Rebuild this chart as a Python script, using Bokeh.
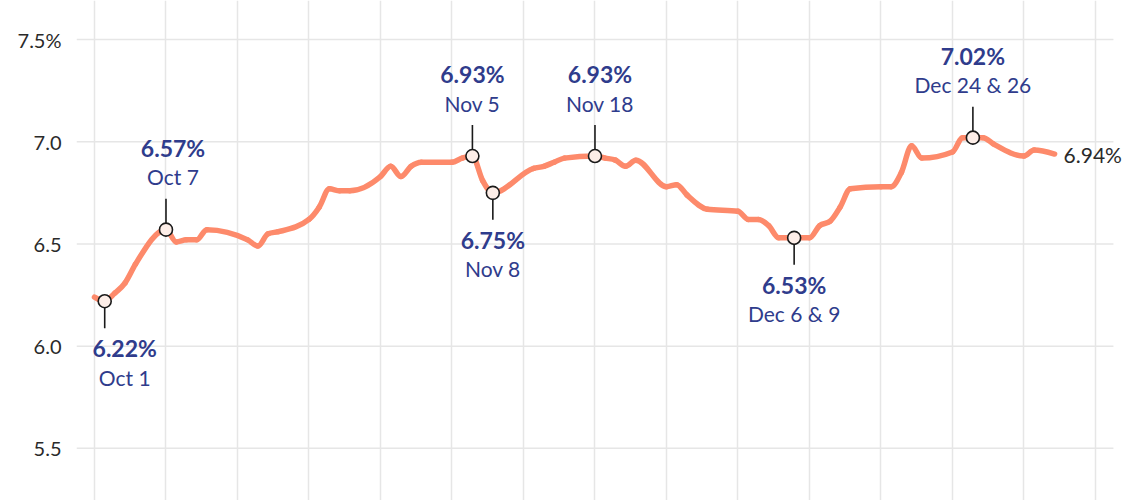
import numpy as np
import pandas as pd
from bokeh.plotting import figure
from bokeh.models import ColumnDataSource, Range1d, FixedTicker, PrintfTickFormatter, Label
from bokeh.core.properties import value
from bokeh.embed import file_html
from bokeh.resources import INLINE

# ---------------- data ----------------
dates = [
    "2024-09-30", "2024-10-01", "2024-10-02", "2024-10-03", "2024-10-04",
    "2024-10-07", "2024-10-08", "2024-10-09", "2024-10-10", "2024-10-11",
    "2024-10-15", "2024-10-16", "2024-10-17", "2024-10-18",
    "2024-10-21", "2024-10-22", "2024-10-23", "2024-10-24", "2024-10-25",
    "2024-10-28", "2024-10-29", "2024-10-30", "2024-10-31", "2024-11-01",
    "2024-11-04", "2024-11-05", "2024-11-06", "2024-11-07", "2024-11-08",
    "2024-11-12", "2024-11-13", "2024-11-14", "2024-11-15",
    "2024-11-18", "2024-11-19", "2024-11-20", "2024-11-21", "2024-11-22",
    "2024-11-25", "2024-11-26", "2024-11-27", "2024-11-29",
    "2024-12-02", "2024-12-03", "2024-12-04", "2024-12-05", "2024-12-06",
    "2024-12-09", "2024-12-10", "2024-12-11", "2024-12-12", "2024-12-13",
    "2024-12-16", "2024-12-17", "2024-12-18", "2024-12-19", "2024-12-20",
    "2024-12-23", "2024-12-24", "2024-12-26", "2024-12-27",
    "2024-12-30", "2024-12-31", "2025-01-02",
]
rates = [
    6.24, 6.22, 6.26, 6.31, 6.40,
    6.57, 6.51, 6.52, 6.52, 6.57,
    6.52, 6.49, 6.55, 6.56,
    6.62, 6.68, 6.77, 6.76, 6.76,
    6.83, 6.88, 6.83, 6.88, 6.90,
    6.90, 6.92, 6.93, 6.81, 6.75,
    6.87, 6.88, 6.90, 6.92,
    6.93, 6.92, 6.91, 6.88, 6.91,
    6.78, 6.79, 6.74, 6.67,
    6.66, 6.62, 6.62, 6.59, 6.53,
    6.53, 6.59, 6.61, 6.68, 6.77,
    6.78, 6.78, 6.85, 6.98, 6.92,
    6.95, 7.02, 7.02, 6.99,
    6.93, 6.96, 6.94,
]

ann_dates = ["2024-10-01T00:00", "2024-10-07T00:00", "2024-11-06T00:00", "2024-11-08T00:00",
             "2024-11-18T00:00", "2024-12-07T12:00", "2024-12-25T00:00"]
ann_values = [6.22, 6.57, 6.93, 6.75, 6.93, 6.53, 7.02]
ann_labels = ["Oct 1", "Oct 7", "Nov 5", "Nov 8", "Nov 18", "Dec 6 & 9", "Dec 24 & 26"]
ann_side = ["below", "above", "above", "below", "above", "below", "above"]

y_ticks = [5.5, 6.0, 6.5, 7.0, 7.5]
y_tick_labels = ["5.5", "6.0", "6.5", "7.0", "7.5%"]

# ---------------- styles / layout ----------------
W, H = 1140, 500
BL, BR = 76, 0
FRAME_W, FRAME_H = W - BL - BR, H
X_START = pd.Timestamp("2024-09-28 05:43")
X_END = pd.Timestamp("2025-01-10 09:50")
X_GRID_END = pd.Timestamp("2025-01-07 18:15")
Y_START, Y_END = 5.245, 7.691

LINE_COLOR = "#fd8a6b"
GRID_COLOR = "#e6e6e6"
NAVY = "#2f3c8c"
FONT = "Lato"
label_shift_px = [20, 7, 0, 0, 5, 0, 0]

ms_per_px = (X_END - X_START) / FRAME_W
unit_per_px = (Y_END - Y_START) / FRAME_H

x = pd.to_datetime(dates, format="%Y-%m-%d")
ax = pd.to_datetime(ann_dates, format="%Y-%m-%dT%H:%M")

p = figure(width=W, height=H, output_backend="svg", toolbar_location=None,
           x_axis_type="datetime",
           x_range=Range1d(X_START, X_END), y_range=Range1d(Y_START, Y_END),
           min_border=0, min_border_left=BL, min_border_right=BR)
p.outline_line_color = None
p.background_fill_color = "white"

# grid
mondays = pd.date_range("2024-09-30", "2025-01-06", freq="W-MON")
monday_ms = [d.value / 1e6 for d in mondays]
p.xaxis.ticker = FixedTicker(ticks=monday_ms)
p.xaxis.visible = False
p.xgrid.ticker = FixedTicker(ticks=monday_ms)
p.xgrid.grid_line_color = GRID_COLOR
p.xgrid.grid_line_width = 1.5
p.ygrid.visible = False
# horizontal grid lines stop short of the right edge (room for the end label)
p.segment(x0=[X_START] * len(y_ticks), x1=[X_GRID_END] * len(y_ticks),
          y0=y_ticks, y1=y_ticks, line_color=GRID_COLOR, line_width=1.5, level="underlay")

p.yaxis.ticker = FixedTicker(ticks=y_ticks)
p.yaxis.formatter = PrintfTickFormatter(format="%.1f")
p.yaxis.major_label_overrides = dict(zip(y_ticks, y_tick_labels))
p.yaxis.axis_line_color = None
p.yaxis.major_tick_line_color = None
p.yaxis.minor_tick_line_color = None
p.yaxis.major_label_standoff = 9
p.yaxis.major_label_text_font = FONT
p.yaxis.major_label_text_font_size = "20px"
p.yaxis.major_label_text_color = "#2a2a2a"

# main line: monotone-x cubic curve through the data points (Bezier segments)
xm = x.values.astype("datetime64[ms]").astype("int64").astype(float)
ym = np.asarray(rates, dtype=float)
h = np.diff(xm)
s = np.diff(ym) / h
m = np.zeros_like(ym)
for i in range(1, len(ym) - 1):
    h0, h1, s0, s1 = h[i - 1], h[i], s[i - 1], s[i]
    pp = (s0 * h1 + s1 * h0) / (h0 + h1)
    m[i] = (np.sign(s0) + np.sign(s1)) * min(abs(s0), abs(s1), 0.5 * abs(pp))
m[0] = (3 * s[0] - m[1]) / 2
m[-1] = (3 * s[-1] - m[-2]) / 2
p.bezier(x0=xm[:-1], y0=ym[:-1], x1=xm[1:], y1=ym[1:],
         cx0=xm[:-1] + h / 3, cy0=ym[:-1] + m[:-1] * h / 3,
         cx1=xm[1:] - h / 3, cy1=ym[1:] - m[1:] * h / 3,
         line_color=LINE_COLOR, line_width=5.5, line_cap="round")

# annotations
sx, sy0, sy1, vx, vy, dy = [], [], [], [], [], []
for d, v, side, sh in zip(ax, ann_values, ann_side, label_shift_px):
    sign = 1 if side == "above" else -1
    sx.append(d)
    sy0.append(v + sign * 6 * unit_per_px)
    sy1.append(v + sign * (31 if side == "above" else 27) * unit_per_px)
    vx.append(d + sh * ms_per_px)
    if side == "above":
        vy.append(v + 82 * unit_per_px)
        dy.append(v + 53 * unit_per_px)
    else:
        vy.append(v - 47 * unit_per_px)
        dy.append(v - 76 * unit_per_px)

p.segment(x0=sx, y0=sy0, x1=sx, y1=sy1, line_color="#1a1a1a", line_width=1.6)
p.scatter(ax, ann_values, size=13, marker="circle", fill_color="#fdeee8",
          line_color="#1a1a1a", line_width=1.6)

src = ColumnDataSource(dict(x=vx, vy=vy, dy=dy,
                            vt=[f"{v:.2f}%" for v in ann_values], dt=ann_labels))
p.text(x="x", y="vy", text="vt", source=src, text_font=value(FONT),
       text_font_style="bold", text_font_size="23px", text_color=NAVY,
       text_align="center", text_baseline="alphabetic")
p.text(x="x", y="dy", text="dt", source=src, text_font=value(FONT),
       text_font_size="21px", text_color=NAVY,
       text_align="center", text_baseline="alphabetic")

# end label
end_label = Label(x=x[-1], y=rates[-1], x_offset=9, text=f"{rates[-1]:.2f}%",
                  text_font=FONT, text_font_size="21px", text_color="#2a2a2a",
                  text_align="left", text_baseline="middle")
p.add_layout(end_label)

open("out.html", "w").write(file_html(p, INLINE))
